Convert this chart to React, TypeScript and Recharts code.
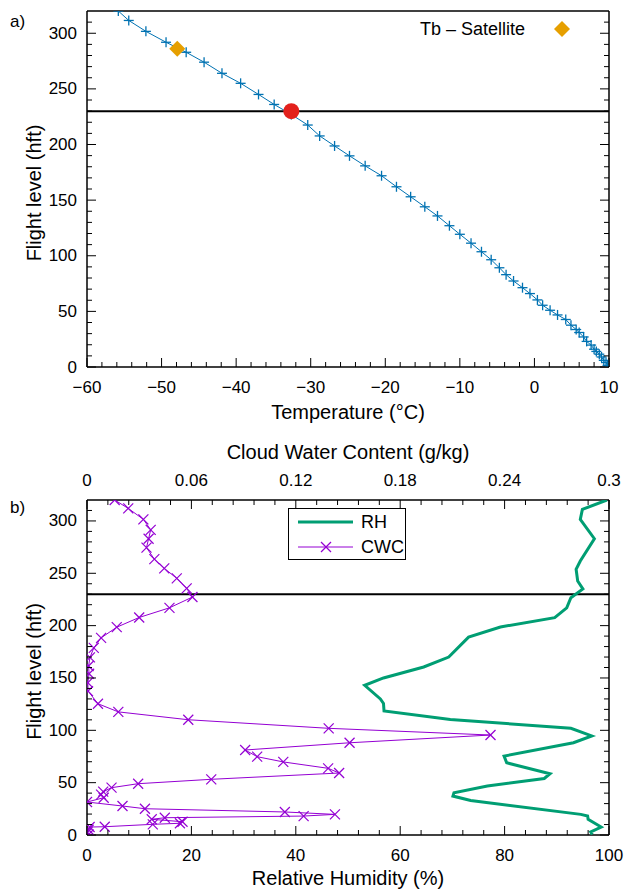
import React from 'react';
import { ScatterChart, Scatter, XAxis, YAxis, ReferenceLine } from 'recharts';

const FONT = '"Liberation Sans", Arial, Helvetica, sans-serif';

// a) temperature profile
const tempLevels = [320, 311.5, 301.7, 291.9, 282.9, 274, 264, 255, 245, 236, 227, 217.5, 207.7, 198.7, 189.8, 180.8, 171.9, 162, 153, 144, 135.8, 127, 119.3, 111.3, 103.6, 96.4, 89.2, 83, 77.3, 71.3, 66, 60.3, 55.5, 51, 46.8, 42.7, 37.6, 33.7, 31, 27, 23, 19.7, 16, 14, 11.5, 9, 6, 4, 1.5];
const tempValues = [-55.8, -54.4, -52.1, -49.4, -46.7, -44.3, -41.9, -39.4, -37.0, -34.9, -32.6, -30.4, -28.8, -26.8, -24.8, -22.7, -20.5, -18.5, -16.6, -14.7, -13.0, -11.4, -10.0, -8.5, -7.1, -5.8, -4.7, -3.8, -2.8, -1.6, -0.6, 0.4, 1.1, 2.1, 3.1, 4.2, 4.9, 5.6, 6.0, 6.6, 7.0, 7.6, 8.0, 8.3, 8.7, 9.0, 9.3, 9.6, 9.8];
const satellite = [{ t: -47.9, fl: 286 }];
const crossing = [{ t: -32.6, fl: 230 }];
const refLevel = 230;

// b) relative humidity and cloud water content
const rhLevels = [320, 311, 301.5, 283, 261.7, 253.8, 242.6, 235, 226.7, 217, 207.6, 198.7, 189, 170, 160.5, 150, 143, 130, 125.7, 118.5, 110.4, 102, 94.6, 88.1, 75.4, 69, 58.5, 54, 46.8, 40.4, 37.2, 33, 19.7, 18.1, 15, 7.6, 2.9, 0.5];
const rhValues = [99.6, 94.9, 94.5, 97.2, 94.5, 93.7, 94.0, 95.0, 92.7, 91.9, 89.6, 79.2, 73.1, 69.3, 64.5, 56.8, 53.2, 56.2, 56.8, 56.9, 69.6, 92.7, 96.7, 93.2, 79.9, 80.4, 88.7, 87.6, 76.7, 70.3, 70.1, 73.5, 94.6, 95.9, 96.0, 98.5, 96.5, 96.8];
const cwcLevels = [320, 312, 301.5, 291.5, 283, 274.5, 263.5, 254.7, 245.2, 235.6, 227.3, 217, 207.8, 198.5, 188.3, 178.7, 169.6, 161.4, 154, 145.5, 137.5, 125.4, 117.6, 110.1, 101.9, 95.5, 88.1, 81.2, 74.8, 69.8, 63.7, 59.2, 53.2, 49, 45.2, 41.4, 38.5, 35.6, 31.5, 27.7, 25.1, 22, 19.7, 18.1, 16.5, 15, 12.7, 11.2, 10.2, 7.9, 7.6, 5, 2.5, 0.5];
const cwcValues = [0.0159, 0.0237, 0.0324, 0.0366, 0.0354, 0.0342, 0.0387, 0.0444, 0.0516, 0.0573, 0.0606, 0.0474, 0.030, 0.0171, 0.0081, 0.0039, 0.0017, 0.0009, 0.0012, 0.0005, 0.0006, 0.0063, 0.018, 0.0582, 0.1389, 0.2319, 0.1509, 0.0909, 0.0978, 0.1128, 0.1386, 0.1449, 0.0714, 0.0294, 0.0141, 0.0093, 0.0081, 0.0096, 0.0, 0.0204, 0.0333, 0.1137, 0.1425, 0.1245, 0.0447, 0.0372, 0.0549, 0.0534, 0.0378, 0.0102, 0.0015, 0.0009, 0.0003, 0.0009];

const tempTicks = [-60, -50, -40, -30, -20, -10, 0, 10];
const flTicks = [0, 50, 100, 150, 200, 250, 300];
const rhTicks = [0, 20, 40, 60, 80, 100];
const cwcTicks = [0, 0.06, 0.12, 0.18, 0.24, 0.3];

const tempData = tempLevels.map((fl, i) => ({ fl, t: tempValues[i] }));
const rhData = rhLevels.map((fl, i) => ({ fl, rh: rhValues[i] }));
const cwcData = cwcLevels.map((fl, i) => ({ fl, cwc: cwcValues[i] }));

const BLUE = '#0072b2';
const GREEN = '#009e73';
const PURPLE = '#9400d3';
const AXIS = { stroke: '#000', strokeWidth: 1.5 };
const TICK_FONT = 17;
const TITLE_FONT = 20;

const withMinor = (majors: number[], n: number, extra: number[] = []) => {
  const out: number[] = [];
  majors.forEach((m, i) => {
    out.push(m);
    if (i < majors.length - 1) {
      const step = (majors[i + 1] - m) / n;
      for (let k = 1; k < n; k++) out.push(+(m + k * step).toFixed(4));
    }
  });
  return out.concat(extra);
};

const fmtNum = (v: number) => {
  const s = String(+v.toFixed(2));
  return v < 0 ? '\u2212' + s.slice(1) : s;
};

const makeTick = (side: 'bottom' | 'top' | 'left' | 'right', majors: number[], labels: boolean) => (p: any) => {
  const v = p.payload.value;
  const major = majors.some((m) => Math.abs(m - v) < 1e-6);
  const len = major ? 9 : 5;
  const { x, y } = p;
  let seg = { x1: x, x2: x, y1: y, y2: y };
  if (side === 'bottom') seg.y2 = y - len;
  if (side === 'top') seg.y2 = y + len;
  if (side === 'left') seg.x2 = x + len;
  if (side === 'right') seg.x2 = x - len;
  let label = null;
  if (labels && major) {
    const common = { fontFamily: FONT, fontSize: TICK_FONT, fill: '#000', dominantBaseline: 'central' as const };
    if (side === 'bottom') label = <text x={x} y={y + 20} textAnchor="middle" {...common}>{fmtNum(v)}</text>;
    if (side === 'top') label = <text x={x} y={y - 20} textAnchor="middle" {...common}>{fmtNum(v)}</text>;
    if (side === 'left') label = <text x={x - 10} y={y} textAnchor="end" {...common}>{fmtNum(v)}</text>;
  }
  return (
    <g>
      <line {...seg} stroke="#000" strokeWidth={1} />
      {label}
    </g>
  );
};

const plus = (p: any) => (
  <g stroke={BLUE} strokeWidth={1.3}>
    <line x1={p.cx - 5} x2={p.cx + 5} y1={p.cy} y2={p.cy} />
    <line x1={p.cx} x2={p.cx} y1={p.cy - 5} y2={p.cy + 5} />
  </g>
);

const cross = (p: any) => (
  <g stroke={PURPLE} strokeWidth={1.2}>
    <line x1={p.cx - 5} x2={p.cx + 5} y1={p.cy - 5} y2={p.cy + 5} />
    <line x1={p.cx - 5} x2={p.cx + 5} y1={p.cy + 5} y2={p.cy - 5} />
  </g>
);

const diamond = (p: any) => (
  <polygon points={`${p.cx},${p.cy - 8} ${p.cx + 8},${p.cy} ${p.cx},${p.cy + 8} ${p.cx - 8},${p.cy}`} fill="#e69f00" />
);

const dot = (p: any) => <circle cx={p.cx} cy={p.cy} r={8} fill="#e3211c" />;
const none = () => <g />;

const titleStyle = { fontFamily: FONT, fontSize: TITLE_FONT, fill: '#000' };

const xTitle = (text: string, dy: number) => (p: any) => {
  const vb = p.viewBox;
  return (
    <text x={vb.x + vb.width / 2} y={vb.y + dy} textAnchor="middle" dominantBaseline="central" {...titleStyle}>
      {text}
    </text>
  );
};

const yTitle = (p: any) => {
  const vb = p.viewBox;
  const cx = vb.x + 34;
  const cy = vb.y + vb.height / 2 + 4;
  return (
    <text x={cx} y={cy} transform={`rotate(-90 ${cx} ${cy})`} textAnchor="middle" dominantBaseline="central" {...titleStyle}>
      Flight level (hft)
    </text>
  );
};

const flAll = withMinor(flTicks, 5, [310]);

const TemperaturePanel = () => (
  <ScatterChart width={628} height={440} margin={{ top: 0, right: 0, bottom: 0, left: 0 }}>
    <XAxis xAxisId="t" type="number" dataKey="t" domain={[-60, 10]} allowDataOverflow ticks={withMinor(tempTicks, 5)} interval={0}
      height={73} tickSize={0} tickMargin={0} tickLine={false} axisLine={AXIS} tick={makeTick('bottom', tempTicks, true)}
      label={xTitle('Temperature (°C)', 45)} />
    <XAxis xAxisId="tTop" orientation="top" type="number" domain={[-60, 10]} allowDataOverflow ticks={withMinor(tempTicks, 5)} interval={0}
      height={11} tickSize={0} tickMargin={0} tickLine={false} axisLine={AXIS} tick={makeTick('top', tempTicks, false)} />
    <YAxis yAxisId="fl" type="number" dataKey="fl" domain={[0, 320]} allowDataOverflow ticks={flAll} interval={0}
      width={87} tickSize={0} tickMargin={0} tickLine={false} axisLine={AXIS} tick={makeTick('left', flTicks, true)} label={yTitle} />
    <YAxis yAxisId="flR" orientation="right" type="number" domain={[0, 320]} allowDataOverflow ticks={flAll} interval={0}
      width={19} tickSize={0} tickMargin={0} tickLine={false} axisLine={AXIS} tick={makeTick('right', flTicks, false)} />
    <ReferenceLine xAxisId="t" yAxisId="fl" y={refLevel} stroke="#000" strokeWidth={2} />
    <Scatter xAxisId="t" yAxisId="fl" data={tempData} line={{ stroke: BLUE, strokeWidth: 1 }} shape={plus} isAnimationActive={false} />
    <Scatter xAxisId="t" yAxisId="fl" data={satellite} shape={diamond} isAnimationActive={false} />
    <Scatter xAxisId="t" yAxisId="fl" data={crossing} shape={dot} isAnimationActive={false} />
  </ScatterChart>
);

const HumidityPanel = () => (
  <ScatterChart width={628} height={451} margin={{ top: 0, right: 0, bottom: 0, left: 0 }}>
    <XAxis xAxisId="rh" type="number" dataKey="rh" domain={[0, 100]} allowDataOverflow ticks={withMinor(rhTicks, 5)} interval={0}
      height={56} tickSize={0} tickMargin={0} tickLine={false} axisLine={AXIS} tick={makeTick('bottom', rhTicks, true)}
      label={xTitle('Relative Humidity (%)', 43)} />
    <XAxis xAxisId="cwc" orientation="top" type="number" dataKey="cwc" domain={[0, 0.3]} allowDataOverflow ticks={withMinor(cwcTicks, 5)} interval={0}
      height={60} tickSize={0} tickMargin={0} tickLine={false} axisLine={AXIS} tick={makeTick('top', cwcTicks, true)}
      label={xTitle('Cloud Water Content (g/kg)', 12)} />
    <YAxis yAxisId="fl" type="number" dataKey="fl" domain={[0, 320]} allowDataOverflow ticks={flAll} interval={0}
      width={87} tickSize={0} tickMargin={0} tickLine={false} axisLine={AXIS} tick={makeTick('left', flTicks, true)} label={yTitle} />
    <YAxis yAxisId="flR" orientation="right" type="number" domain={[0, 320]} allowDataOverflow ticks={flAll} interval={0}
      width={19} tickSize={0} tickMargin={0} tickLine={false} axisLine={AXIS} tick={makeTick('right', flTicks, false)} />
    <ReferenceLine xAxisId="rh" yAxisId="fl" y={refLevel} stroke="#000" strokeWidth={2} />
    <Scatter xAxisId="rh" yAxisId="fl" data={rhData} line={{ stroke: GREEN, strokeWidth: 3 }} shape={none} isAnimationActive={false} />
    <Scatter xAxisId="cwc" yAxisId="fl" data={cwcData} line={{ stroke: PURPLE, strokeWidth: 1 }} shape={cross} isAnimationActive={false} />
  </ScatterChart>
);

const textStyle: React.CSSProperties = { position: 'absolute', fontFamily: FONT, fontSize: 18, lineHeight: '20px', color: '#000', whiteSpace: 'nowrap' };

export default function App() {
  return (
    <div style={{ position: 'absolute', left: 0, top: 0, width: 628, height: 891, background: '#fff' }}>
      <div style={{ position: 'absolute', left: 0, top: 0 }}>
        <TemperaturePanel />
      </div>
      <div style={{ position: 'absolute', left: 0, top: 440 }}>
        <HumidityPanel />
      </div>
      <div style={{ ...textStyle, fontSize: 17, left: 10, top: 12 }}>a)</div>
      <div style={{ ...textStyle, fontSize: 17, left: 10, top: 498 }}>b)</div>
      <div style={{ ...textStyle, right: 103, top: 19 }}>Tb – Satellite</div>
      <svg style={{ position: 'absolute', left: 552, top: 19 }} width={20} height={20}>
        <polygon points="10,2 18,10 10,18 2,10" fill="#e69f00" />
      </svg>
      <div style={{ position: 'absolute', left: 288, top: 508, width: 118, height: 52, border: '1px solid #000', background: '#fff', boxSizing: 'border-box' }}>
        <svg style={{ position: 'absolute', left: 0, top: 0 }} width={118} height={52}>
          <line x1={9} x2={64} y1={13} y2={13} stroke={GREEN} strokeWidth={3} />
          <line x1={9} x2={64} y1={38} y2={38} stroke={PURPLE} strokeWidth={1} />
          <g stroke={PURPLE} strokeWidth={1.2}>
            <line x1={32} x2={42} y1={33} y2={43} />
            <line x1={32} x2={42} y1={43} y2={33} />
          </g>
        </svg>
        <div style={{ ...textStyle, left: 72, top: 3 }}>RH</div>
        <div style={{ ...textStyle, left: 72, top: 28 }}>CWC</div>
      </div>
    </div>
  );
}
